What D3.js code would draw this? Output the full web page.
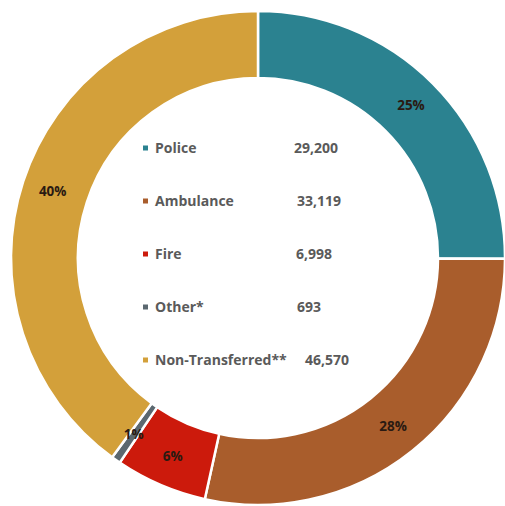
<!DOCTYPE html>
<html>
<head>
<meta charset="utf-8">
<script src="https://cdn.jsdelivr.net/npm/d3@7"></script>
<style>
  html, body { margin: 0; padding: 0; background: #fff; }
  svg { display: block; }
</style>
</head>
<body>
<div class="chart-container"></div>
<script>
// Chart data
const categories = ['Police', 'Ambulance', 'Fire', 'Other*', 'Non-Transferred**'];
const values = [29200, 33119, 6998, 693, 46570];
const valueLabels = ['29,200', '33,119', '6,998', '693', '46,570'];
const percentLabels = ['25%', '28%', '6%', '1%', '40%'];
const colors = ['#2b8290', '#a95d2c', '#cc1a0c', '#5b6870', '#d3a03a'];

const width = 505, height = 506;
const cx = 258, cy = 258;
const outerR = 247, innerR = 180;

const svg = d3.select('.chart-container')
    .append('svg')
    .attr('width', width)
    .attr('height', height);

const g = svg.append('g')
    .attr('transform', `translate(${cx},${cy})`);

const pie = d3.pie().sort(null).value(d => d);
const arcs = pie(values);

const arc = d3.arc().innerRadius(innerR).outerRadius(outerR);
const labelArc = d3.arc().innerRadius(216).outerRadius(216);

// Slices
g.selectAll('path.slice')
    .data(arcs)
    .enter()
    .append('path')
    .attr('class', 'slice')
    .attr('d', arc)
    .attr('fill', (d, i) => colors[i])
    .attr('stroke', '#fff')
    .attr('stroke-width', 2.5);

// Percent labels on the ring
g.selectAll('text.pct')
    .data(arcs)
    .enter()
    .append('text')
    .attr('class', 'pct')
    .attr('transform', d => `translate(${labelArc.centroid(d)})`)
    .attr('text-anchor', 'middle')
    .attr('dy', '0.35em')
    .style('font-family', '"Open Sans", sans-serif')
    .style('font-weight', 700)
    .style('font-size', '13.5px')
    .style('fill', '#2a1a12')
    .text((d, i) => percentLabels[i]);

// Legend inside the hole
const row = d3.scalePoint().domain(categories).range([148, 360]);
const valueX = [294, 297, 296, 297, 305];

const legend = svg.append('g')
    .selectAll('g')
    .data(categories)
    .enter()
    .append('g')
    .attr('transform', d => `translate(0,${row(d)})`);

legend.append('rect')
    .attr('x', 143)
    .attr('y', -2.5)
    .attr('width', 5)
    .attr('height', 5)
    .attr('fill', (d, i) => colors[i]);

legend.append('text')
    .attr('x', 155)
    .attr('dy', '0.35em')
    .style('font-family', '"Open Sans", sans-serif')
    .style('font-weight', 700)
    .style('font-size', '14px')
    .style('fill', '#5a5a5a')
    .text(d => d);

legend.append('text')
    .attr('x', (d, i) => valueX[i])
    .attr('dy', '0.35em')
    .style('font-family', '"Open Sans", sans-serif')
    .style('font-weight', 700)
    .style('font-size', '14px')
    .style('fill', '#5a5a5a')
    .text((d, i) => valueLabels[i]);
</script>
</body>
</html>
